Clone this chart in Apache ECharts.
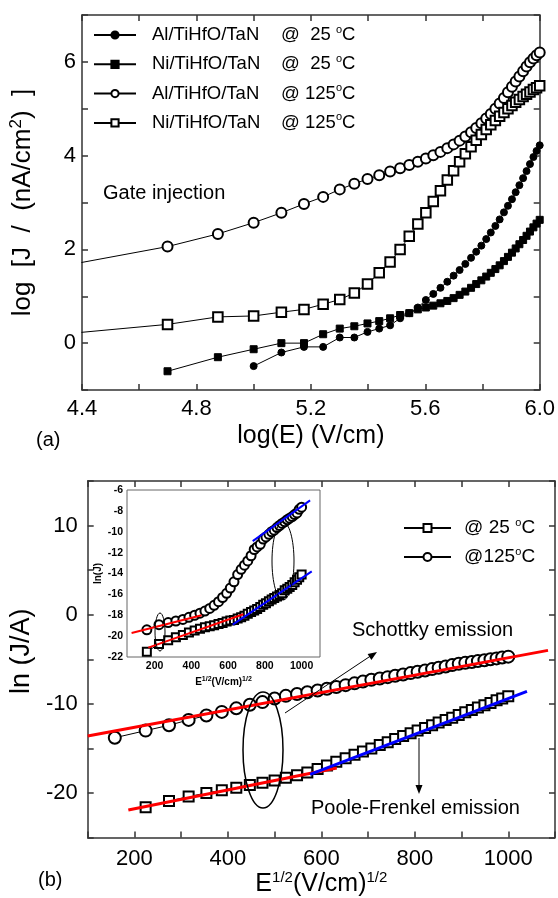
<!DOCTYPE html>
<html><head><meta charset="utf-8">
<script src="https://cdn.jsdelivr.net/npm/echarts@6/dist/echarts.min.js"></script>
<style>html,body{margin:0;padding:0;background:#fff}#c{width:558px;height:898px}</style>
</head><body><div id="c"></div>
<script>
// ---------- Panel (a): log J vs log E ----------
const logE = [4.398,4.699,4.875,5.000,5.097,5.176,5.243,5.301,5.352,5.398,5.439,5.477,5.512,5.544,5.574,5.602,5.628,5.653,5.677,5.699,5.720,5.740,5.760,5.778,5.796,5.813,5.829,5.845,5.860,5.875,5.889,5.903,5.916,5.929,5.942,5.954,5.966,5.978,5.989,6.000];
const al25  = [null,null,null,-0.49,-0.20,-0.08,-0.08,0.12,0.12,0.24,0.31,0.38,0.53,0.64,0.76,0.92,1.05,1.18,1.31,1.44,1.56,1.69,1.82,1.95,2.08,2.22,2.36,2.50,2.64,2.79,2.93,3.07,3.22,3.37,3.52,3.67,3.82,3.97,4.10,4.22];
const ni25  = [null,-0.60,-0.30,-0.13,0.00,0.00,0.19,0.31,0.36,0.42,0.47,0.53,0.60,0.64,0.72,0.76,0.80,0.85,0.90,0.96,1.03,1.10,1.18,1.26,1.34,1.42,1.50,1.58,1.66,1.75,1.84,1.93,2.02,2.11,2.20,2.29,2.38,2.47,2.55,2.63];
const al125 = [1.72,2.06,2.33,2.57,2.78,2.97,3.12,3.28,3.40,3.50,3.58,3.66,3.73,3.80,3.87,3.94,4.01,4.08,4.16,4.24,4.32,4.41,4.50,4.59,4.69,4.79,4.89,5.00,5.11,5.23,5.35,5.47,5.58,5.69,5.80,5.90,5.99,6.07,6.14,6.20];
const ni125 = [0.23,0.40,0.56,0.58,0.66,0.72,0.83,0.93,1.07,1.26,1.50,1.73,2.00,2.28,2.54,2.78,3.02,3.25,3.48,3.68,3.87,4.04,4.19,4.33,4.45,4.56,4.66,4.75,4.84,4.92,5.00,5.07,5.14,5.20,5.26,5.31,5.36,5.41,5.45,5.49];
const namesA = ['Al/TiHfO/TaN @ 25°C','Ni/TiHfO/TaN @ 25°C','Al/TiHfO/TaN @ 125°C','Ni/TiHfO/TaN @ 125°C'];

// ---------- Panel (b): ln(J/A) vs E^1/2 ----------
const sqrtE = [158,224,274,316,354,387,418,447,474,500,524,548,570,592,612,632,652,671,689,707,725,742,758,775,791,806,822,837,851,866,880,894,908,922,935,949,962,975,987,1000];
const ln25  = [null,-21.6,-20.9,-20.4,-20.0,-19.7,-19.4,-19.1,-18.85,-18.6,-18.3,-18.0,-17.7,-17.3,-16.9,-16.5,-16.1,-15.7,-15.35,-15.0,-14.6,-14.3,-13.95,-13.6,-13.3,-13.0,-12.7,-12.4,-12.1,-11.8,-11.55,-11.25,-10.95,-10.7,-10.4,-10.15,-9.9,-9.6,-9.4,-9.15];
const ln125 = [-13.8,-13.0,-12.4,-11.8,-11.3,-10.9,-10.5,-10.1,-9.8,-9.4,-9.1,-8.9,-8.7,-8.5,-8.3,-8.1,-7.9,-7.7,-7.5,-7.3,-7.15,-7.0,-6.85,-6.7,-6.55,-6.4,-6.25,-6.1,-5.95,-5.8,-5.65,-5.5,-5.4,-5.3,-5.2,-5.1,-5.0,-4.9,-4.8,-4.7];
const fitSchottky125 = [[100,-13.6],[1085,-4.0]];
const fitSchottky25  = [[187,-21.9],[633,-17.2]];
const fitPF25        = [[576,-17.9],[1040,-8.6]];
const namesB = ['@ 25°C','@125°C'];

// ---------- Inset: ln(J) vs E^1/2 ----------
const insetLn25  = [-21.5,-20.75,-20.4,-20.1,-19.9,-19.65,-19.45,-19.3,-19.15,-19.05,-18.95,-18.85,-18.75,-18.6,-18.5,-18.45,-18.3,-18.2,-18.05,-17.85,-17.7,-17.55,-17.4,-17.2,-17.0,-16.85,-16.65,-16.5,-16.35,-16.2,-16.05,-15.9,-15.6,-15.45,-15.3,-15.1,-14.85,-14.6,-14.35,-14.1];
const insetLn125 = [-19.4,-18.9,-18.7,-18.55,-18.4,-18.2,-18.0,-17.8,-17.6,-17.35,-17.05,-16.7,-16.3,-15.9,-15.4,-14.8,-14.1,-13.6,-13.2,-12.8,-12.3,-11.7,-11.45,-11.2,-10.7,-10.5,-10.25,-10.0,-9.85,-9.6,-9.4,-9.2,-9.05,-8.85,-8.7,-8.55,-8.35,-8.2,-7.85,-7.65];
const insetRed125  = [[75,-19.7],[456,-18.0]];
const insetRed25   = [[166,-21.1],[683,-17.9]];
const insetBlue25  = [[625,-18.9],[1055,-13.8]];
const insetBlue125 = [[734,-10.9],[1046,-7.0]];

const FONT = 'Liberation Sans, Arial, Helvetica, sans-serif';
const AX = '#333';
function pairs(xs, ys){ const o=[]; xs.forEach((x,i)=>{ if(ys[i]!=null) o.push([x,ys[i]]); }); return o; }
const supRich = (fs, sfs, lh, bold) => ({
  t:{fontSize:fs, fontFamily:FONT, fontWeight:bold?'bold':'normal', color:'#000', lineHeight:lh},
  s:{fontSize:sfs, fontFamily:FONT, fontWeight:bold?'bold':'normal', color:'#000', lineHeight:sfs+2, verticalAlign:'top'}
});
function mirrorX(gi,min,max,interval){return {type:'value',gridIndex:gi,position:'top',min,max,interval,
  axisLine:{show:true,onZero:false,lineStyle:{color:AX,width:1.5}},axisTick:{show:true,inside:true,length:6,lineStyle:{color:AX,width:1.5}},
  axisLabel:{show:false},splitLine:{show:false}};}
function mirrorY(gi,min,max,interval){return {type:'value',gridIndex:gi,position:'right',min,max,interval,
  axisLine:{show:true,onZero:false,lineStyle:{color:AX,width:1.5}},axisTick:{show:true,inside:true,length:6,lineStyle:{color:AX,width:1.5}},
  axisLabel:{show:false},splitLine:{show:false}};}

const chart = echarts.init(document.getElementById('c'), null, {renderer:'canvas'});
const lineS = (name, xi, yi, data, symbol, size, z) => ({
  name, type:'line', xAxisIndex:xi, yAxisIndex:yi, data, symbol, symbolSize:size, z:z||2,
  lineStyle:{color:'#000', width:1}, itemStyle:{color:'#000', borderColor:'#000', borderWidth:1},
  emphasis:{disabled:true}, animation:false
});
const fitS = (xi, yi, data, color, w, z) => ({
  type:'line', xAxisIndex:xi, yAxisIndex:yi, data, symbol:'none', z:z||5,
  lineStyle:{color, width:w||3}, emphasis:{disabled:true}, animation:false
});

const option = {
  animation:false,
  backgroundColor:'#fff',
  grid:[
    {left:80, top:15, width:460, height:375},
    {left:82, top:481, width:473, height:360},
    {left:127, top:490, width:193, height:167, show:true, backgroundColor:'#fff', borderColor:'#666', borderWidth:1, z:3}
  ],
  xAxis:[
    {type:'value', gridIndex:0, min:4.4, max:6.0, interval:0.2,
     name:'log(E) (V/cm)', nameLocation:'middle', nameGap:34,
     nameTextStyle:{fontSize:25, fontFamily:FONT, color:'#000'},
     axisLine:{show:true,onZero:false,lineStyle:{color:AX,width:1.5}},
     axisTick:{inside:true,length:6,lineStyle:{color:AX,width:1.5}},
     axisLabel:{fontSize:22, fontFamily:FONT, color:'#000', margin:8,
       formatter:v=>(Math.round(v*10)%4===0? v.toFixed(1):'')},
     splitLine:{show:false}},
    mirrorX(0,4.4,6.0,0.2),
    {type:'value', gridIndex:1, min:100, max:1100, interval:100,
     name:'{t|E}{s|1/2}{t|(V/cm)}{s|1/2}', nameLocation:'middle', nameGap:29,
     nameTextStyle:{fontSize:25, fontFamily:FONT, color:'#000', rich:supRich(25,15,28,false)},
     axisLine:{show:true,onZero:false,lineStyle:{color:AX,width:1.5}},
     axisTick:{inside:true,length:6,lineStyle:{color:AX,width:1.5}},
     axisLabel:{fontSize:22, fontFamily:FONT, color:'#000', margin:10,
       formatter:v=>(v%200===0? String(v):'')},
     splitLine:{show:false}},
    mirrorX(1,100,1100,100),
    {type:'value', gridIndex:2, min:50, max:1100, interval:50,
     name:'{t|E}{s|1/2}{t|(V/cm)}{s|1/2}', nameLocation:'middle', nameGap:19,
     nameTextStyle:{fontSize:10, fontFamily:FONT, fontWeight:'bold', color:'#000', rich:supRich(10,7,12,true)},
     axisLine:{show:false}, axisTick:{show:false},
     axisLabel:{fontSize:10.5, fontWeight:'bold', fontFamily:FONT, color:'#000', margin:4,
       formatter:v=>(v%200===0? String(v):'')},
     splitLine:{show:false}}
  ],
  yAxis:[
    {type:'value', gridIndex:0, min:-1, max:7, interval:1,
     name:'{t|log  [J  /  (nA/cm}{s|2}{t|)  ]}', nameLocation:'middle', nameGap:44, nameRotate:90,
     nameTextStyle:{fontSize:26, fontFamily:FONT, color:'#000', rich:supRich(26,17,30,false)},
     axisLine:{show:true,onZero:false,lineStyle:{color:AX,width:1.5}},
     axisTick:{inside:true,length:6,lineStyle:{color:AX,width:1.5}},
     axisLabel:{fontSize:22, fontFamily:FONT, color:'#000', margin:6,
       formatter:v=>(v%2===0? String(v):'')},
     splitLine:{show:false}},
    mirrorY(0,-1,7,1),
    {type:'value', gridIndex:1, min:-25, max:15, interval:5,
     name:'ln (J/A)', nameLocation:'middle', nameGap:46, nameRotate:90,
     nameTextStyle:{fontSize:27, fontFamily:FONT, color:'#000', padding:[0,0,0,16]},
     axisLine:{show:true,onZero:false,lineStyle:{color:AX,width:1.5}},
     axisTick:{inside:true,length:6,lineStyle:{color:AX,width:1.5}},
     axisLabel:{fontSize:22, fontFamily:FONT, color:'#000', margin:10,
       formatter:v=>(v%10===0? String(v):'')},
     splitLine:{show:false}},
    mirrorY(1,-25,15,5),
    {type:'value', gridIndex:2, min:-22, max:-6, interval:2,
     name:'ln(J)', nameLocation:'middle', nameGap:24, nameRotate:90,
     nameTextStyle:{fontSize:10, fontWeight:'bold', fontFamily:FONT, color:'#000'},
     axisLine:{show:false}, axisTick:{show:false},
     axisLabel:{fontSize:10.5, fontWeight:'bold', fontFamily:FONT, color:'#000', margin:4},
     splitLine:{show:false}}
  ],
  legend:[
    {data:namesA, orient:'vertical', left:93, top:24, padding:0, itemWidth:42, itemHeight:9, itemGap:7.3,
     selectedMode:false,
     textStyle:{fontSize:18.5, fontFamily:FONT, color:'#000', lineHeight:22,
       rich:{a:{fontSize:18.5, fontFamily:FONT, width:129, padding:[0,0,0,11], lineHeight:22},
             b:{fontSize:18.5, fontFamily:FONT, lineHeight:22},
             n:{fontSize:18.5, fontFamily:FONT, width:31, align:'right', lineHeight:22},
             o:{fontSize:11, fontFamily:FONT, verticalAlign:'top', lineHeight:12}}},
     formatter:name=>{const p=name.split(' @ '); return `{a|${p[0]}}{b|@ }{n|${p[1].replace('°C','')}}{o|o}{b|C}`;}},
    {data:namesB, orient:'vertical', left:403, top:517, padding:0, itemWidth:47, itemHeight:10, itemGap:7,
     selectedMode:false,
     textStyle:{fontSize:19, fontFamily:FONT, color:'#000', lineHeight:22,
       rich:{p:{fontSize:19, fontFamily:FONT, lineHeight:22, padding:[0,0,0,8]},
             b:{fontSize:19, fontFamily:FONT, lineHeight:22},
             n:{fontSize:19, fontFamily:FONT, width:32, align:'right', lineHeight:22},
             o:{fontSize:11, fontFamily:FONT, verticalAlign:'top', lineHeight:12}}},
     formatter:name=>`{p|@}{n|${name.replace('@','').replace('°C','').trim()}}{o|o}{b|C}`}
  ],
  series:[
    lineS(namesA[0],0,0,pairs(logE,al25),'circle',7),
    lineS(namesA[1],0,0,pairs(logE,ni25),'rect',7),
    lineS(namesA[2],0,0,pairs(logE,al125),'emptyCircle',10),
    lineS(namesA[3],0,0,pairs(logE,ni125),'emptyRect',9.5),

    lineS(namesB[0],2,2,pairs(sqrtE,ln25),'emptyRect',10),
    lineS(namesB[1],2,2,pairs(sqrtE,ln125),'emptyCircle',12),
    fitS(2,2,fitSchottky125,'#ff0000'),
    fitS(2,2,fitSchottky25,'#ff0000'),
    fitS(2,2,fitPF25,'#0000ff'),

    lineS('inset25',4,4,pairs(sqrtE,insetLn25),'emptyRect',8,10),
    lineS('inset125',4,4,pairs(sqrtE,insetLn125),'emptyCircle',9,10),
    fitS(4,4,insetRed125,'#ff0000',2,12),
    fitS(4,4,insetRed25,'#ff0000',2,12),
    fitS(4,4,insetBlue25,'#0000ff',2,12),
    fitS(4,4,insetBlue125,'#0000ff',2,12)
  ],
  graphic:[
    {type:'text', x:103, y:193, z:20, style:{text:'Gate injection', fontSize:20, fontFamily:FONT, fill:'#000', verticalAlign:'middle'}},
    {type:'text', x:36, y:440, z:20, style:{text:'(a)', fontSize:20, fontFamily:FONT, fill:'#000', verticalAlign:'middle'}},
    {type:'text', x:38, y:880, z:20, style:{text:'(b)', fontSize:20, fontFamily:FONT, fill:'#000', verticalAlign:'middle'}},
    {type:'text', x:352, y:630, z:20, style:{text:'Schottky emission', fontSize:20, fontFamily:FONT, fill:'#000', verticalAlign:'middle'}},
    {type:'text', x:311, y:808, z:20, style:{text:'Poole-Frenkel emission', fontSize:20, fontFamily:FONT, fill:'#000', verticalAlign:'middle'}},
    {type:'ellipse', z:20, shape:{cx:263, cy:750, rx:20, ry:58}, style:{fill:null, stroke:'#000', lineWidth:1.5}},
    {type:'ellipse', z:20, shape:{cx:160, cy:632, rx:5, ry:19}, style:{fill:null, stroke:'#000', lineWidth:1}},
    {type:'ellipse', z:20, shape:{cx:283, cy:561, rx:11, ry:39}, style:{fill:null, stroke:'#000', lineWidth:1}},
    {type:'line', z:20, shape:{x1:285, y1:713, x2:372, y2:655}, style:{stroke:'#000', lineWidth:1}},
    {type:'polygon', z:20, shape:{points:[[377,652],[371.4,659.9],[367.6,654.1]]}, style:{fill:'#000'}},
    {type:'line', z:20, shape:{x1:419, y1:738, x2:419, y2:786}, style:{stroke:'#000', lineWidth:1}},
    {type:'polygon', z:20, shape:{points:[[419,794],[415.5,785],[422.5,785]]}, style:{fill:'#000'}}
  ]
};
chart.setOption(option);
</script>
</body></html>
